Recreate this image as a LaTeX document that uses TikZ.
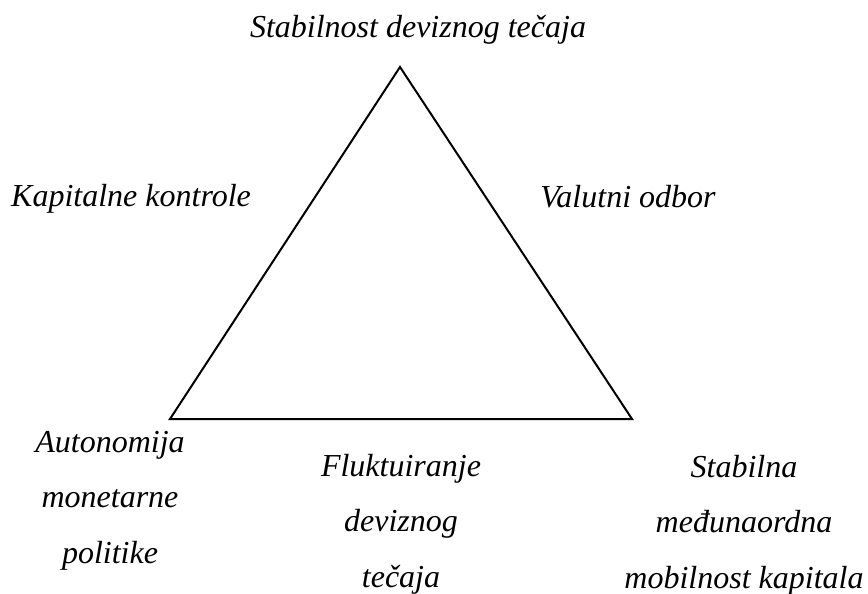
\documentclass[tikz,border=0pt]{standalone}
\usepackage{fontspec}
\setmainfont{Liberation Serif}
\begin{document}
\begin{tikzpicture}[x=1pt,y=-1pt,
  lbl/.style={font=\fontsize{32}{55.5}\selectfont\itshape, align=center, inner sep=0pt, anchor=base},
  edge/.style={line width=2pt, line join=miter}]
\useasboundingbox (0,0) rectangle (868,594);
\coordinate (T) at (400,67);
\coordinate (L) at (170,419);
\coordinate (R) at (632,419);
\draw[edge] (T) -- (L) -- (R) -- cycle;
\node[lbl] (top) at (418,38) {Stabilnost deviznog tečaja};
\node[lbl] (kap) at (131,206) {Kapitalne kontrole};
\node[lbl] (val) at (628,207) {Valutni odbor};
\node[lbl] (aut) at (110,563) {Autonomija\\monetarne\\politike};
\node[lbl] (flu) at (401,587) {Fluktuiranje\\deviznog\\tečaja};
\node[lbl] (sta) at (744,588) {Stabilna\\međunaordna\\mobilnost kapitala};
\end{tikzpicture}
\end{document}
